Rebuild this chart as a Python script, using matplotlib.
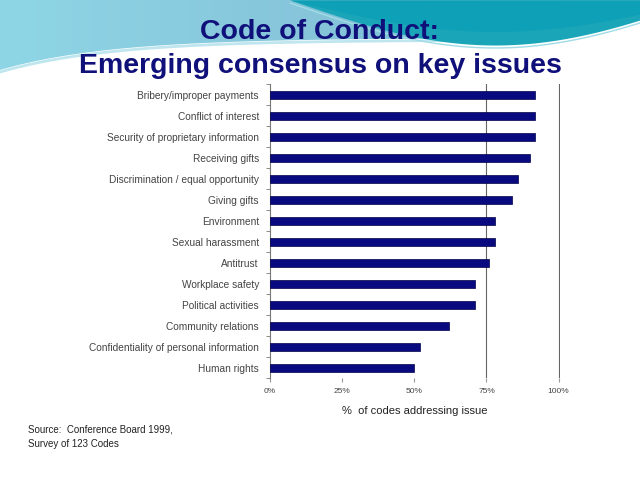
import matplotlib.pyplot as plt
import numpy as np

issues = [
    "Bribery/improper payments",
    "Conflict of interest",
    "Security of proprietary information",
    "Receiving gifts",
    "Discrimination / equal opportunity",
    "Giving gifts",
    "Environment",
    "Sexual harassment",
    "Antitrust",
    "Workplace safety",
    "Political activities",
    "Community relations",
    "Confidentiality of personal information",
    "Human rights",
]
pct = [92, 92, 92, 90, 86, 84, 78, 78, 76, 71, 71, 62, 52, 50]
xticks = [0, 25, 50, 75, 100]
xticklabels = ["0%", "25%", "50%", "75%", "100%"]

fig = plt.figure(figsize=(6.4, 4.8), dpi=100)
fig.patch.set_facecolor("white")
plt.rcParams['font.family'] = ['Liberation Sans', 'DejaVu Sans']

## slide background: wave decoration at the top (pixel coords)
bg = fig.add_axes([0, 0, 1, 1], zorder=-1)
bg.set_xlim(0, 640)
bg.set_ylim(480, 0)
bg.axis("off")
px = np.linspace(0, 640, 400)
light = 38 + 32 * np.exp(-px / 110)
light[px > 470] = 40 - (px[px > 470] - 470) * 0.2
grad = np.linspace(0, 1, 256).reshape(1, -1)
bg.imshow(grad, extent=[0, 640, 80, 0], cmap=plt.matplotlib.colors.LinearSegmentedColormap.from_list(
    "sky", ["#8ed6e6", "#86c4da", "#6cc0d6"]), aspect="auto", zorder=0)
bg.fill_between(px, light, 480, color="white", lw=0, zorder=1)
bg.plot(px, light + 2, color="#bfe6ee", lw=2, zorder=2)
tm = px > 290
teal = 45 * np.sin(np.pi * (px[tm] - 290) / 410)
bg.fill_between(px[tm], 0, teal, color="#1aa6b8", lw=0, zorder=3)
bg.fill_between(px[tm], 0, teal * 0.7, color="#0ea0b6", lw=0, zorder=3)
bg.plot(px[tm], teal + 3, color="#9fdce6", lw=1, zorder=3)

fig.text(0.5, 0.933, "Code of Conduct:", ha="center", va="center",
         fontsize=20.5, fontweight="bold", color="#10107a")
fig.text(0.5, 0.863, "Emerging consensus on key issues", ha="center", va="center",
         fontsize=20.5, fontweight="bold", color="#10107a")

ax = fig.add_axes([0.422, 0.212, 0.453, 0.612])
y = np.arange(len(issues))
ax.barh(y, pct, height=0.4, color="#0a0a80", edgecolor="#00004a", lw=0.5, zorder=3)
ax.set_ylim(len(issues) - 0.5, -0.5)
ax.set_xlim(0, 100.5)
for g in [75, 100]:
    ax.axvline(g, color="#666666", lw=0.8, zorder=1)

ax.set_yticks(y)
ax.set_yticklabels(issues, fontsize=7.3, color="#444444")
ax.tick_params(axis="y", length=0, pad=8)
ax.set_yticks(np.arange(-0.5, len(issues), 1), minor=True)
ax.tick_params(axis="y", which="minor", length=3, color="#777777")

ax.set_xticks(xticks)
ax.set_xticklabels(xticklabels, fontsize=6, color="#444444")
ax.tick_params(axis="x", length=3, color="#999999", pad=4)
ax.set_xlabel("%  of codes addressing issue", fontsize=8, color="#222222", labelpad=8)

for s in ["top", "right", "bottom"]:
    ax.spines[s].set_visible(False)
ax.spines["left"].set_color("#777777")
ax.spines["left"].set_linewidth(0.8)
ax.patch.set_alpha(0)

fig.text(0.044, 0.09, "Source:  Conference Board 1999,\nSurvey of 123 Codes",
         fontsize=7, color="#222222", va="center", linespacing=1.5)

fig.savefig("out.png", dpi=100)
